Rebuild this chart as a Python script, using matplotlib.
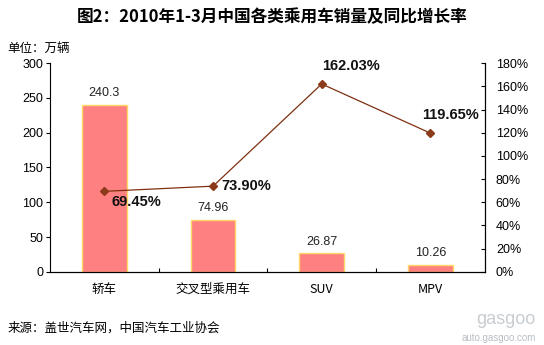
import numpy as np
import matplotlib
matplotlib.use('Agg')
import matplotlib.pyplot as plt

plt.rcParams['font.family'] = ['Liberation Sans', 'Noto Sans CJK SC', 'DejaVu Sans']

categories = ['轿车', '交叉型乘用车', 'SUV', 'MPV']
sales = [240.3, 74.96, 26.87, 10.26]          # 万辆
growth = [69.45, 73.90, 162.03, 119.65]       # %
sales_labels = ['240.3', '74.96', '26.87', '10.26']

fig = plt.figure(figsize=(5.44, 3.45), dpi=100)
ax = fig.add_axes([0.092, 0.212, 0.799, 0.605])
x = np.arange(len(categories)) + 0.5

ax.bar(x, sales, width=0.41, color='#FF8080', edgecolor='#FFD966', linewidth=1.0, zorder=2)
for xi, v, s in zip(x, sales, sales_labels):
    ax.text(xi, v + 8, s, ha='center', va='bottom', fontsize=9, color='#222222')

ax.set_xlim(0, 4)
ax.set_ylim(0, 300)
ax.set_yticks(range(0, 301, 50))
ax.tick_params(axis='y', direction='out', length=3, labelsize=9, pad=2)
ax.set_xticks([1, 2, 3])
ax.set_xticklabels([])
ax.tick_params(axis='x', direction='in', length=3)
for xi, c in zip(x, categories):
    ax.text(xi, -16, c, ha='center', va='top', fontsize=9,
            family=['Noto Sans CJK SC', 'DejaVu Sans'],
            transform=ax.transData)
ax.spines['top'].set_visible(False)

ax2 = ax.twinx()
ax2.plot(x, growth, color='#7F3010', linewidth=0.9, marker='D', markersize=4,
         markerfacecolor='#8B3A1A', markeredgecolor='#8B3A1A', zorder=3)
ax2.set_ylim(0, 180)
ax2.set_yticks(range(0, 181, 20))
ax2.set_yticklabels([f'{t}%' for t in range(0, 181, 20)])
ax2.tick_params(axis='y', direction='in', length=3, labelsize=9, pad=8)
ax2.spines['top'].set_visible(False)
ax2.spines['left'].set_visible(False)

# growth labels, offsets in points
offsets = [(5, -8, 'left', 'center'), (6, 0, 'left', 'center'),
           (0, 8, 'left', 'bottom'), (-6, 8, 'left', 'bottom')]
for xi, g, (dx, dy, ha, va) in zip(x, growth, offsets):
    ax2.annotate(f'{g:.2f}%', (xi, g), xytext=(dx, dy), textcoords='offset points',
                 ha=ha, va=va, fontsize=10.5, fontweight='bold', color='#111111')

fig.text(0.5, 0.95, '图2：2010年1-3月中国各类乘用车销量及同比增长率', ha='center', va='center',
         fontsize=12, fontweight='bold', family=['Noto Sans CJK SC', 'DejaVu Sans'])
fig.text(0.013, 0.861, '单位：万辆', ha='left', va='center', fontsize=9,
         family=['Noto Sans CJK SC', 'DejaVu Sans'])
fig.text(0.013, 0.048, '来源：盖世汽车网，中国汽车工业协会', ha='left', va='center', fontsize=9,
         family=['Noto Sans CJK SC', 'DejaVu Sans'])
fig.text(0.985, 0.075, 'gasgoo', ha='right', va='center', fontsize=13, color='#C8CDD2')
fig.text(0.985, 0.02, 'auto.gasgoo.com', ha='right', va='center', fontsize=7, color='#B8BEC4')

fig.savefig('out.png', dpi=100)
